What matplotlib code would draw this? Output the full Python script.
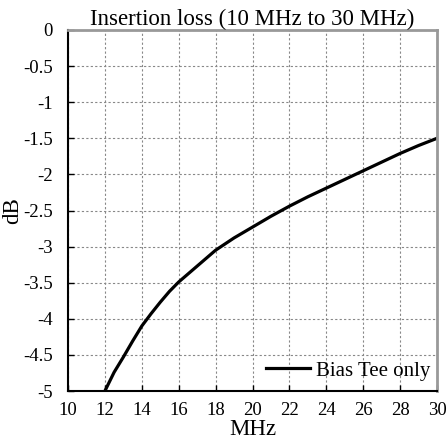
import matplotlib
matplotlib.use('Agg')
import matplotlib.pyplot as plt
from matplotlib.ticker import FuncFormatter

plt.rcParams['font.family'] = ['Liberation Serif', 'DejaVu Serif']

# insertion loss
freq = [12, 12.5, 13, 13.5, 14, 14.5, 15, 15.5, 16, 17, 18, 19, 20, 21, 22,
        23, 24, 25, 26, 27, 28, 29, 30]
loss = [-5.0, -4.74, -4.53, -4.31, -4.1, -3.93, -3.77, -3.62, -3.49, -3.27, -3.05,
        -2.88, -2.73, -2.58, -2.44, -2.31, -2.19, -2.07, -1.95, -1.83, -1.71, -1.6, -1.5]
xticks = list(range(10, 31, 2))
yticks = [0, -0.5, -1, -1.5, -2, -2.5, -3, -3.5, -4, -4.5, -5]

fig = plt.figure(figsize=(4.47, 4.43), dpi=100)
ax = fig.add_axes([68/447, 1 - 391/443, 369/447, 361/443])
ax.plot(freq, loss, color='black', lw=2.3, label='Bias Tee only')
ax.set_xlim(10, 30)
ax.set_ylim(-5, 0)
ax.set_xticks(xticks)
ax.set_yticks(yticks)
ax.yaxis.set_major_formatter(FuncFormatter(lambda v, p: '%g' % v))
ax.tick_params(direction='in', labelsize=13.5, length=4, width=1)
ax.tick_params(axis='x', pad=8)
ax.tick_params(axis='y', pad=11)
ax.grid(True, color='#888888', ls=(0, (2, 2)), lw=0.8)
for s in ['left', 'bottom']:
    ax.spines[s].set_color('black')
    ax.spines[s].set_linewidth(1.5)
for s in ['top', 'right']:
    ax.spines[s].set_color('#999999')
    ax.spines[s].set_linewidth(2)
ax.set_title('Insertion loss (10 MHz to 30 MHz)', fontsize=16.5, pad=1)
ax.set_xlabel('MHz', fontsize=16.5, labelpad=0)
ax.set_ylabel('dB', fontsize=16.5, labelpad=0)
ax.legend(loc='lower right', bbox_to_anchor=(1.01, 0.0), frameon=False, fontsize=15,
          handlelength=2.1, handletextpad=0.3, borderaxespad=0.2, borderpad=0.3)
fig.savefig('out.png', dpi=100)
